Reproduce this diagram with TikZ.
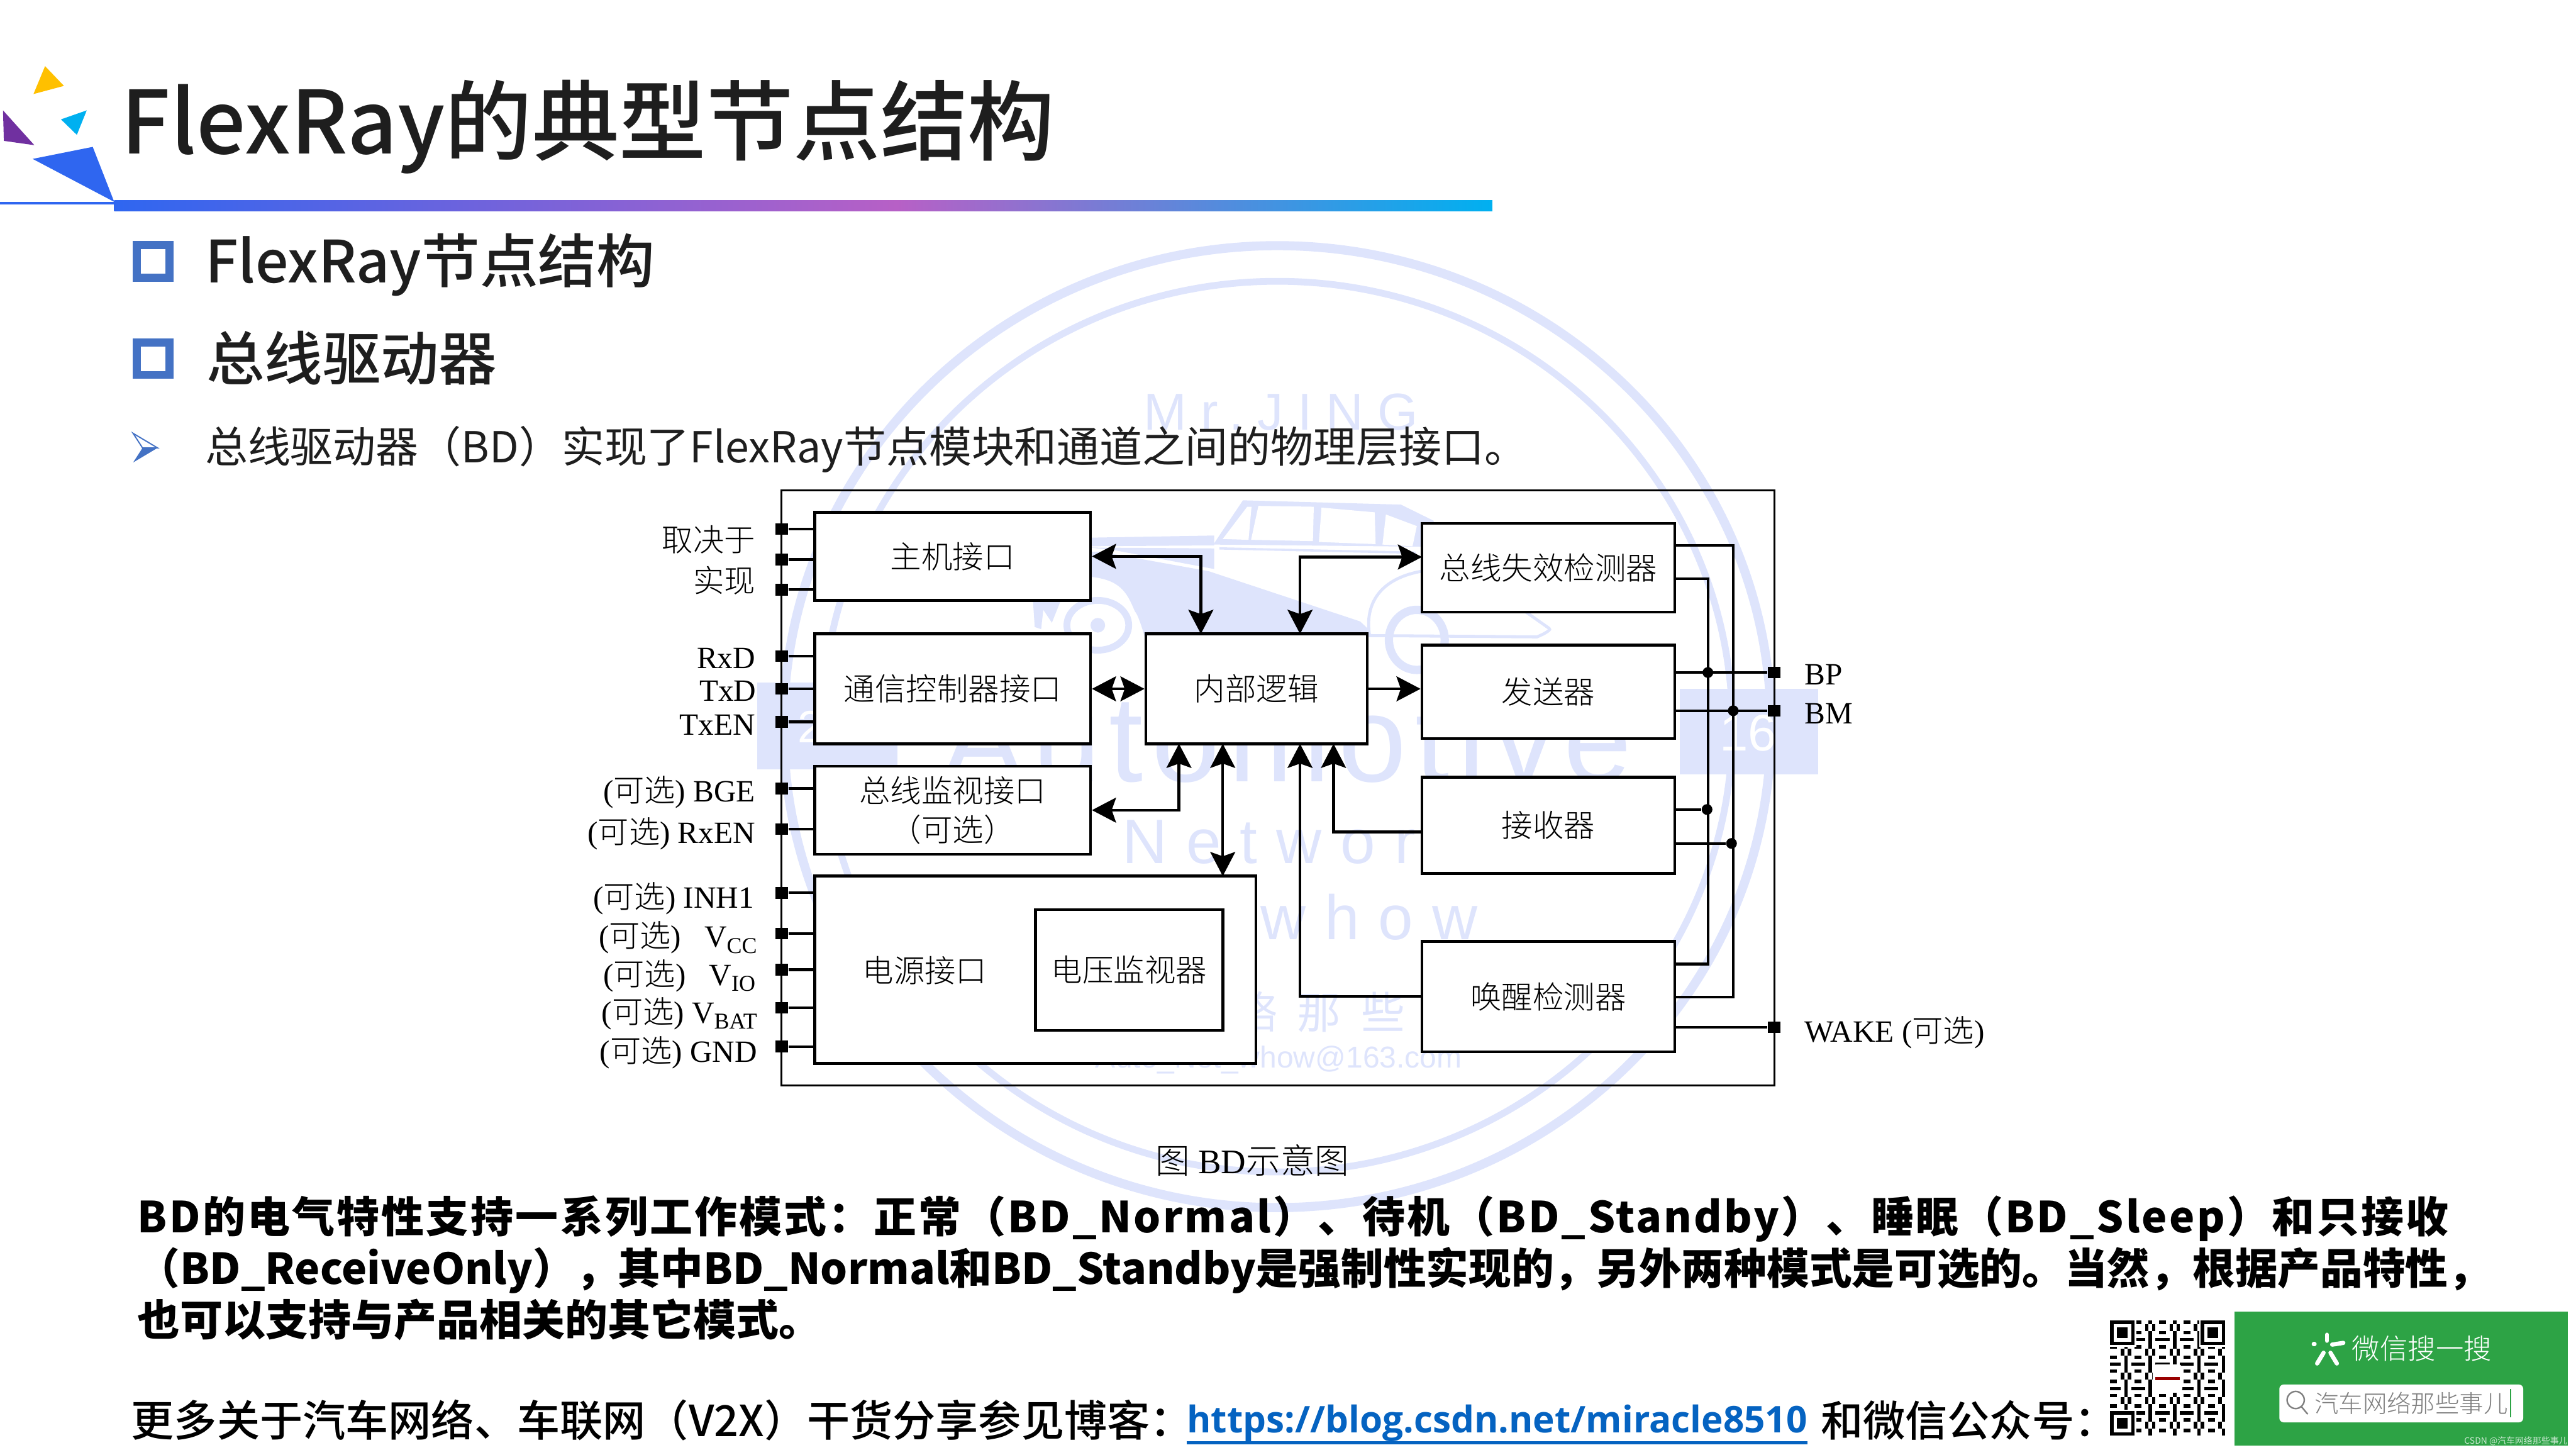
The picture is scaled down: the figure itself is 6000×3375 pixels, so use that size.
\documentclass[tikz,border=0pt]{standalone}
\usepackage{fontspec}
\usetikzlibrary{arrows.meta}
\setmainfont{Noto Sans CJK SC}
\newfontfamily\figcjk{Noto Sans CJK SC Light}
\newfontfamily\medcjk{Noto Sans CJK SC Medium}
\newfontfamily\figlat{Liberation Serif}
\newfontfamily\marksans{Liberation Sans}
\newfontfamily\linksans{Open Sans}
\newcommand{\figfont}{\figcjk\fontsize{20.6}{26}\selectfont}
\newcommand{\optcn}{{\figcjk 可选}}
\definecolor{markblue}{HTML}{DEE4FC}
\definecolor{barblue}{HTML}{2F66F0}
\definecolor{barpink}{HTML}{B760C6}
\definecolor{barcyan}{HTML}{00B0F0}
\definecolor{logoyellow}{HTML}{FFC000}
\definecolor{logopurple}{HTML}{7030A0}
\definecolor{boxblue}{HTML}{4472C4}
\definecolor{linkblue}{HTML}{0563C1}
\definecolor{wxgreen}{HTML}{2DA345}
\definecolor{inkgray}{HTML}{1E1E1E}
\tikzset{%
  mybox/.style 2 args={draw=black, fill=white, line width=1.8pt, inner sep=0pt, minimum width=#1cm, minimum height=#2cm, font=\figfont, align=center},
  mywire/.style={draw=black, line width=1.8pt},
  myedge/.style={mywire, >={Stealth[length=0.56cm, width=0.58cm, inset=0.1cm]}},
  mypin/.style={fill=black, inner sep=0pt, minimum width=0.29cm, minimum height=0.27cm},
  mydot/.style={circle, fill=black, inner sep=0pt, minimum size=0.25cm},
  mylabel/.style={anchor=base east, inner sep=0pt, font=\figlat\fontsize{20.5}{24}\selectfont},
  mytext/.style={anchor=base west, inner sep=0pt, text=inkgray},
  mybold/.style={anchor=base west, inner sep=0pt, text=black, font=\bfseries\fontsize{28.2}{30}\selectfont},
  mymark/.style={inner sep=0pt, text=markblue},
  mybullet/.style={draw=boxblue, line width=5.4pt, inner sep=0pt, minimum size=0.76cm}
}

\begin{document}
\begin{tikzpicture}[x=0.01cm, y=-0.01cm]
  \useasboundingbox (0,0) rectangle (6000,3375);
  % watermark
  \draw [markblue, line width=6pt] (2975,1692) ellipse [x radius=1150, y radius=1120];
  \draw [markblue, line width=4.5pt] (2975,1692) ellipse [x radius=1060, y radius=1037];
  \fill [markblue] (1764,1589) rectangle (2090,1792);
  \fill [markblue] (3912,1604) rectangle (4235,1803);
  \node [mymark, text=white, font=\marksans\fontsize{30}{32}\selectfont] (marktwo) at (1888,1693) {2};
  \node [mymark, text=white, font=\marksans\fontsize{34}{36}\selectfont] (marksixteen) at (4072,1707) {16};
  \fill [markblue] (2539,1252) -- (2828,1247) -- (2828,1270) -- (2539,1272) -- cycle;
  \fill [markblue] (2539,1275) -- (2828,1277) -- (2828,1325) -- (2600,1282) -- cycle;
  \fill [markblue] (2565,1285) -- (2815,1330) -- (3168,1447) -- (3185,1463) -- (3185,1500) -- (2677,1530)
    .. controls (2665,1470) and (2650,1430) .. (2643,1423) .. controls (2625,1380) and (2610,1350) .. (2539,1343) -- (2539,1285) -- cycle;
  \fill [markblue] (2826,1268) -- (2895,1165) -- (3263,1175) -- (3340,1213) -- (3312,1273) -- cycle;
  \fill [white] (2905,1180) -- (2848,1255) -- (2908,1257) -- (2915,1180) -- cycle;
  \fill [white] (2931,1178) -- (3060,1180) -- (3058,1260) -- (2914,1257) -- cycle;
  \fill [white] (3078,1182) -- (3202,1193) -- (3204,1267) -- (3072,1262) -- cycle;
  \fill [white] (3228,1198) -- (3300,1225) -- (3290,1272) -- (3220,1268) -- cycle;
  \draw [markblue, line width=1.5pt] (2840,1277) -- (3297,1287);
  \draw [markblue, line width=2pt] (3312,1330) .. controls (3200,1350) and (3180,1420) .. (3190,1480)
    -- (3580,1483) .. controls (3600,1475) and (3615,1465) .. (3608,1463) -- (3554,1425);
  \fill [white] (2557,1456) ellipse [x radius=62, y radius=48];
  \draw [markblue, line width=4.5pt] (2557,1456) ellipse [x radius=72, y radius=58];
  \fill [markblue] (2557,1456) ellipse [x radius=17, y radius=17];
  \fill [markblue] (2406,1400) -- (2470,1400) -- (2450,1450) -- (2430,1420) -- (2425,1465) -- (2410,1460) -- cycle;
  \draw [markblue, line width=5.5pt] (3300,1490) ellipse [x radius=65, y radius=70];
  \node [mymark, anchor=base west, font=\marksans\addfontfeature{LetterSpace=27}\fontsize{34.4}{36}\selectfont] (markjing) at (2663,1001) {Mr.JING};
  \node [mymark, anchor=base west, font=\marksans\addfontfeature{LetterSpace=7}\fontsize{81}{84}\selectfont] (markauto) at (2195,1820) {Automotive};
  \node [mymark, anchor=base west, font=\marksans\addfontfeature{LetterSpace=30}\fontsize{41.6}{44}\selectfont] (marknet) at (2613,2010) {Network};
  \node [mymark, anchor=base west, font=\marksans\addfontfeature{LetterSpace=30}\fontsize{41.6}{44}\selectfont] (markwhow) at (2935,2187) {whow};
  \node [mymark, anchor=base, font=\fontsize{29}{31}\selectfont] (marklu) at (2925,2395) {络};
  \node [mymark, anchor=base, font=\fontsize{29}{31}\selectfont] (markna) at (3072,2395) {那};
  \node [mymark, anchor=base, font=\fontsize{29}{31}\selectfont] (markxie) at (3222,2395) {些};
  \node [mymark, anchor=base west, font=\marksans\fontsize{20}{22}\selectfont] (markmail) at (2551,2486) {Auto\_Net\_whow@163.com};
  % header
  \fill [logoyellow] (105,154) -- (149,200) -- (78,219) -- cycle;
  \fill [barcyan] (202,257) -- (142,278) -- (179,314) -- cycle;
  \fill [logopurple] (7,257) -- (80,338) -- (9,328) -- cycle;
  \fill [barblue] (216,342) -- (76,370) -- (266,470) -- cycle;
  \draw [barblue, line width=1.6pt] (0,473) -- (266,473);
  \shade [left color=barblue, right color=barpink] (266,466) rectangle (2089,492);
  \shade [left color=barpink, right color=barcyan] (2089,466) rectangle (3476,492);
  \node [mytext, font=\medcjk\fontsize{57.7}{60}\selectfont] (title) at (282,358) {FlexRay的典型节点结构};
  \node [mybullet] (bulleta) at (357,608) {};
  \node [mytext, font=\medcjk\fontsize{38.6}{41}\selectfont] (texta) at (477,658) {FlexRay节点结构};
  \node [mybullet] (bulletb) at (357,835) {};
  \node [mytext, font=\medcjk\fontsize{38.5}{40}\selectfont] (textb) at (480,885) {总线驱动器};
  \draw [boxblue, line width=0.8pt] (310,1009) -- (367,1043) -- (332,1043) -- cycle;
  \fill [boxblue] (367,1043) -- (310,1077) -- (332,1043) -- cycle;
  \node [mytext, font=\fontsize{28.3}{30}\selectfont] (textc) at (477,1077) {总线驱动器（BD）实现了FlexRay节点模块和通道之间的物理层接口。};
  % bd block
  \node [draw=black, line width=1.4pt, inner sep=0pt, minimum width=23.11cm, minimum height=13.85cm] (bd) at (2976.5,1834.5) {};
  \node [mybox={6.42}{2.05}] (host) at (2219,1295.5) {主机接口};
  \node [mybox={6.42}{2.56}] (ctrl) at (2219,1604) {通信控制器接口};
  \node [mybox={6.42}{2.05}] (mon) at (2219,1886.5) {总线监视接口\\（可选）};
  \node [mybox={10.27}{4.36}] (power) at (2411.5,2258) {};
  \node [inner sep=0pt, font=\figfont] (powertext) at (2154,2260) {电源接口};
  \node [mybox={4.36}{2.81}] (volt) at (2630,2258.5) {电压监视器};
  \node [mybox={5.15}{2.56}] (logic) at (2926.5,1604) {内部逻辑};
  \node [mybox={5.89}{2.06}] (fail) at (3606.5,1322) {总线失效检测器};
  \node [mybox={5.89}{2.18}] (tx) at (3606.5,1611) {发送器};
  \node [mybox={5.89}{2.24}] (rx) at (3606.5,1922) {接收器};
  \node [mybox={5.89}{2.57}] (wake) at (3606.5,2320.5) {唤醒检测器};
  \foreach \pinname/\y/\target in {pa/1232/host, pb/1303/host, pc/1373/host, pd/1528/ctrl, pe/1604/ctrl, pf/1681/ctrl, pg/1836/mon, ph/1931/mon, pi/2079/power, pj/2174/power, pk/2258/power, pl/2347/power, pm/2437/power} {
    \node [mypin] (\pinname) at (1821,\y) {};
    \draw [mywire] (\pinname) -- (\pinname -| \target.west);
  }
  \coordinate (la) at (2797,1476);
  \coordinate (lb) at (3028,1476);
  \coordinate (lc) at (2746,1732);
  \coordinate (ld) at (2848,1732);
  \coordinate (le) at (3028,1732);
  \coordinate (lf) at (3106,1732);
  \coordinate (pwtop) at (2848,2040);
  \coordinate (failin) at (3312,1297);
  \coordinate (rxout) at (3312,1937);
  \draw [myedge, <->] (host.east) -| (la);
  \draw [myedge, <->] (lb) |- (failin);
  \draw [myedge, <->] (ctrl.east) -- (logic.west);
  \draw [myedge, ->] (logic.east) -- (logic.east -| tx.west);
  \draw [myedge, <->] (mon.east) -| (lc);
  \draw [myedge, <->] (ld) -- (pwtop);
  \draw [myedge, ->] (wake.west) -| (le);
  \draw [myedge, ->] (rxout) -| (lf);
  \node [mypin] (bp) at (4132,1566) {};
  \node [mypin] (bm) at (4132,1655) {};
  \node [mypin] (wakepin) at (4132,2392) {};
  \draw [mywire] (tx.east |- bp) -- (bp);
  \draw [mywire] (tx.east |- bm) -- (bm);
  \draw [mywire] (wake.east |- wakepin) -- (wakepin);
  \node [mydot] (dota) at (3978,1566) {};
  \node [mydot] (dotb) at (4037,1655) {};
  \node [mydot] (dotc) at (3976,1885) {};
  \node [mydot] (dotd) at (4033,1964) {};
  \coordinate (faila) at (3901,1270);
  \coordinate (failb) at (3901,1348);
  \coordinate (wakea) at (3901,2322);
  \coordinate (wakeb) at (3901,2245);
  \draw [mywire] (faila) -| (4037,1800) |- (wakea);
  \draw [mywire] (failb) -| (3978,1800) |- (wakeb);
  \draw [mywire] (rx.east |- dotc) -- (dotc);
  \draw [mywire] (rx.east |- dotd) -- (dotd);
  % pin labels
  \node [mylabel, font=\figfont] (lba) at (1760,1284) {取决于};
  \node [mylabel, font=\figfont] (lbb) at (1760,1379) {实现};
  \node [mylabel] (lbc) at (1760,1556) {RxD};
  \node [mylabel] (lbd) at (1762,1633) {TxD};
  \node [mylabel] (lbe) at (1760,1712) {TxEN};
  \node [mylabel] (lbf) at (1760,1867) {(\optcn) BGE};
  \node [mylabel] (lbg) at (1760,1964) {(\optcn) RxEN};
  \node [mylabel] (lbh) at (1757,2114) {(\optcn) INH1};
  \node [mylabel] (lbi) at (1764,2205) {(\optcn)\hspace{0.75em}V\raisebox{-0.2em}{\fontsize{15}{16}\selectfont CC}};
  \node [mylabel] (lbj) at (1760,2294) {(\optcn)\hspace{0.75em}V\raisebox{-0.2em}{\fontsize{15}{16}\selectfont IO}};
  \node [mylabel] (lbk) at (1764,2382) {(\optcn) V\raisebox{-0.2em}{\fontsize{15}{16}\selectfont BAT}};
  \node [mylabel] (lbl) at (1764,2473) {(\optcn) GND};
  \node [mylabel, anchor=base west] (lbbp) at (4203,1595) {BP};
  \node [mylabel, anchor=base west] (lbbm) at (4203,1686) {BM};
  \node [mylabel, anchor=base west] (lbwake) at (4203,2427) {WAKE (\optcn)};
  \node [mylabel, anchor=base, font=\figlat\fontsize{22.8}{24}\selectfont] (caption) at (2917,2732) {{\figcjk 图} BD{\figcjk 示意图}};
  % paragraph
  \node [mybold, font=\bfseries\addfontfeature{LetterSpace=4.7}\fontsize{28.3}{30}\selectfont] (para) at (320,2871) {BD的电气特性支持一系列工作模式：正常（BD\_Normal）、待机（BD\_Standby）、睡眠（BD\_Sleep）和只接收};
  \node [mybold] (parb) at (320,2991) {（BD\_ReceiveOnly），其中BD\_Normal和BD\_Standby是强制性实现的，另外两种模式是可选的。当然，根据产品特性，};
  \node [mybold, font=\bfseries\fontsize{28.3}{30}\selectfont] (parc) at (320,3111) {也可以支持与产品相关的其它模式。};
  \node [mytext, text=black, font=\medcjk\fontsize{28.4}{30}\selectfont] (foota) at (305,3345) {更多关于汽车网络、车联网（V2X）干货分享参见博客：};
  \node [mytext, text=linkblue, font=\linksans\bfseries\fontsize{24.35}{27}\selectfont] (link) at (2764,3336) {https://blog.csdn.net/miracle8510};
  \draw [linkblue, line width=2pt] ([yshift=-0.23cm]link.base west) -- ([yshift=-0.23cm]link.base east);
  \node [mytext, text=black, font=\medcjk\fontsize{28}{30}\selectfont] (footb) at (4240,3345) {和微信公众号：};
  % qr code
  \foreach \i in {0,...,32} {
    \foreach \j in {0,...,32} {
      \pgfmathtruncatemacro{\bit}{mod(\i*\i*3+\j*\j*5+\i*\j*7+\i*11+\j*13,7)}
      \ifnum\bit<3
        \fill [black] (4915+\i*8.12,3075+\j*8.12) rectangle ++(8.12,8.12);
      \fi
    }
  }
  \foreach \qx/\qy in {4915/3075, 5126/3075, 4915/3286} {
    \fill [white] (\qx-4,\qy-4) rectangle ++(65,65);
    \fill [black] (\qx,\qy) rectangle ++(57,57);
    \fill [white] (\qx+8,\qy+8) rectangle ++(41,41);
    \fill [black] (\qx+16,\qy+16) rectangle ++(25,25);
  }
  \fill [white, rounded corners=0.1cm] (5014,3177) rectangle (5083,3243);
  \fill [red!60!black] (5020,3206) rectangle (5077,3214);
  % wechat card
  \fill [wxgreen] (5204,3054) rectangle (5981,3366);
  \fill [white, rounded corners=0.1cm] (5309,3224) rectangle (5877,3312);
  \draw [white, line width=2.8pt, line cap=round] (5420,3108) -- (5420,3122);
  \draw [white, line width=2.8pt, line cap=round] (5432,3131) -- (5458,3127);
  \draw [white, line width=2.8pt, line cap=round] (5389,3130) -- (5391,3130);
  \draw [white, line width=2.8pt, line cap=round] (5412,3150) -- (5397,3175);
  \draw [white, line width=2.8pt, line cap=round] (5428,3150) -- (5443,3175);
  \node [inner sep=0pt, text=white, font=\figcjk\fontsize{18.5}{20}\selectfont] (wxtitle) at (5641,3140) {微信搜一搜};
  \draw [gray, line width=1pt] (5347,3260) circle [radius=20];
  \draw [gray, line width=1pt] (5360,3275) -- (5375,3293);
  \node [inner sep=0pt, text=gray, font=\figcjk\fontsize{16}{18}\selectfont] (wxsearch) at (5616,3267) {汽车网络那些事儿};
  \draw [wxgreen, line width=1pt] (5848,3235) -- (5848,3300);
  \node [anchor=east, inner sep=0pt, text=white!75!wxgreen, font=\fontsize{5.8}{6}\selectfont] (wxcsdn) at (5981,3356) {CSDN @汽车网络那些事儿};
\end{tikzpicture}
\end{document}
